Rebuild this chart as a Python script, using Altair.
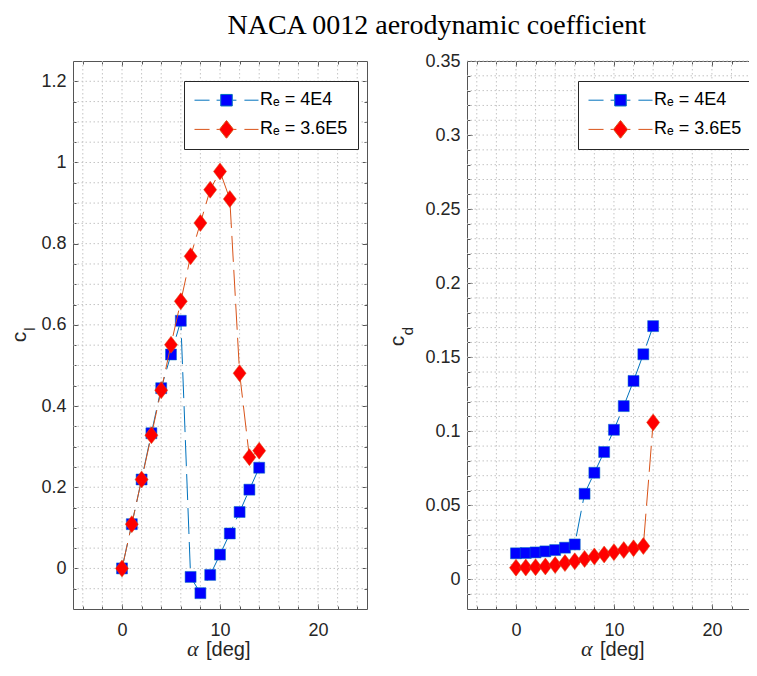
import altair as alt
import pandas as pd

# ---------------- data ----------------
alpha_deg = list(range(15))
series_names = ["Rₑ = 4E4", "Rₑ = 3.6E5"]

cl_re_4e4 = [0.0, 0.109, 0.219, 0.333, 0.444, 0.527, 0.610, -0.021, -0.061,
             -0.016, 0.034, 0.086, 0.139, 0.194, 0.248]
cl_re_36e5 = [0.0, 0.109, 0.219, 0.328, 0.439, 0.551, 0.658, 0.769, 0.851,
              0.933, 0.978, 0.910, 0.481, 0.274, 0.290]
cd_re_4e4 = [0.0176, 0.0178, 0.0182, 0.0189, 0.0198, 0.0214, 0.0236, 0.0578,
             0.0720, 0.0860, 0.1010, 0.1170, 0.1340, 0.1520, 0.1710]
cd_re_36e5 = [0.0079, 0.0080, 0.0082, 0.0087, 0.0097, 0.0110, 0.0122, 0.0138,
              0.0155, 0.0168, 0.0184, 0.0198, 0.0210, 0.0225, 0.1060]

# axes / ticks
x_major = [0, 10, 20]
x_minor = [-4, -2, 2, 4, 6, 8, 12, 14, 16, 18, 22, 24]
cl_major = [0, 0.2, 0.4, 0.6, 0.8, 1.0, 1.2]
cl_minor = [-0.05, 0.05, 0.1, 0.15, 0.25, 0.3, 0.35, 0.45, 0.5, 0.55, 0.65,
            0.7, 0.75, 0.85, 0.9, 0.95, 1.05, 1.1, 1.15]
cd_major = [0, 0.05, 0.1, 0.15, 0.2, 0.25, 0.3, 0.35]
cd_minor = [-0.01, 0.01, 0.02, 0.03, 0.04, 0.06, 0.07, 0.08, 0.09, 0.11, 0.12,
            0.13, 0.14, 0.16, 0.17, 0.18, 0.19, 0.21, 0.22, 0.23, 0.24, 0.26,
            0.27, 0.28, 0.29, 0.31, 0.32, 0.33, 0.34]

# ---------------- styles ----------------
SANS = "Liberation Sans"
SERIF = "Liberation Serif"
TXT = "#262626"
TICK = "#555555"
GRID = "#c4c4c4"
LINE_COLORS = ["#0072BD", "#D95319"]
MARK_COLORS = ["#0000FF", "#FF0000"]
DASH = [26, 8]
H = 548
XT_Y = 595
DIAMOND = "M0,-1L0.765,0L0,1L-0.765,0Z"
LEG_PATHS = [
    "M-1,0H-0.53M-0.31,0H-0.2M0.2,0H0.31M0.56,0H1M-0.18,-0.18H0.18V0.18H-0.18Z",
    "M-1,0H-0.53M-0.31,0H-0.23M0.23,0H0.31M0.56,0H1M0,-0.28L0.22,0L0,0.28L-0.22,0Z",
]


def ax(orient, values, size, labels=False, pad=0):
    kw = dict(orient=orient, values=values, tickSize=size, offset=-size,
              labels=labels, domain=False, grid=False, title=None,
              tickColor=TICK, tickWidth=1)
    if labels:
        kw.update(labelFont=SANS, labelFontSize=18, labelColor=TXT,
                  labelPadding=pad, format="~r")
    return alt.Axis(**kw)


def txt(s, x, y, size, font=SANS, angle=0, style="normal", align="center"):
    return alt.Chart(pd.DataFrame({"t": [s]})).mark_text(
        angle=angle, font=font, fontSize=size, fontStyle=style, color=TXT,
        align=align, baseline="alphabetic"
    ).encode(x=alt.value(x), y=alt.value(y), text="t:N")


def panel(ya, yb, y_domain, y_major, y_minor, width, x_domain, sub,
          cpos, spos, right_ticks):
    df = pd.DataFrame({
        "alpha": alpha_deg * 2,
        "value": ya + yb,
        "series": [series_names[0]] * len(ya) + [series_names[1]] * len(yb),
    })
    xs = alt.Scale(domain=x_domain, nice=False, zero=False)
    ys = alt.Scale(domain=y_domain, nice=False, zero=False)
    base = alt.Chart(df)
    fa = alt.datum.series == series_names[0]
    fb = alt.datum.series == series_names[1]

    gridx = alt.Chart(pd.DataFrame({"g": sorted(x_major + x_minor)})).mark_rule(
        color=GRID, strokeDash=[1.5, 2.5], strokeWidth=1
    ).encode(x=alt.X("g:Q", scale=xs, axis=ax("bottom", x_minor, 3)))
    gridy = alt.Chart(pd.DataFrame({"g": sorted(y_major + y_minor)})).mark_rule(
        color=GRID, strokeDash=[1.5, 2.5], strokeWidth=1
    ).encode(y=alt.Y("g:Q", scale=ys, axis=ax("left", y_minor, 3)))

    line_a = base.transform_filter(fa).mark_line(
        color=LINE_COLORS[0], strokeWidth=1, strokeDash=DASH
    ).encode(
        x=alt.X("alpha:Q", scale=xs, axis=ax("bottom", x_major, 5, True, 12)),
        y=alt.Y("value:Q", scale=ys, axis=ax("left", y_major, 5, True, 7)),
    )
    pts_a = base.transform_filter(fa).mark_point(
        shape="square", size=121, filled=True, fill=MARK_COLORS[0],
        stroke=LINE_COLORS[0], strokeWidth=0.5, opacity=1
    ).encode(
        x=alt.X("alpha:Q", scale=xs, axis=ax("top", x_major, 5)),
        y=alt.Y("value:Q", scale=ys,
                axis=ax("right", y_major, 5) if right_ticks else None),
    )
    line_b = base.transform_filter(fb).mark_line(
        color=LINE_COLORS[1], strokeWidth=1, strokeDash=DASH
    ).encode(
        x=alt.X("alpha:Q", scale=xs, axis=ax("top", x_minor, 3)),
        y=alt.Y("value:Q", scale=ys,
                axis=ax("right", y_minor, 3) if right_ticks else None),
    )
    pts_b = base.transform_filter(fb).mark_point(
        shape=DIAMOND, size=289, filled=True, fill=MARK_COLORS[1],
        stroke=LINE_COLORS[1], strokeWidth=0.5, opacity=1
    ).encode(
        x=alt.X("alpha:Q", scale=xs, axis=None),
        y=alt.Y("value:Q", scale=ys, axis=None),
    )

    leg = alt.Legend(
        title=None, orient="none", legendX=111, legendY=20, symbolSize=4096,
        clipHeight=18.4, rowPadding=10.2, padding=10, labelOffset=1,
        labelFont=SANS, labelFontSize=18, labelColor="black",
        strokeColor="#262626", fillColor="white", symbolStrokeWidth=1,
        symbolOpacity=1, labelLimit=300,
    )
    legend_layer = base.transform_filter("false").mark_point(
        filled=True, opacity=1
    ).encode(
        fill=alt.Fill("series:N", scale=alt.Scale(domain=series_names, range=MARK_COLORS), legend=leg),
        stroke=alt.Stroke("series:N", scale=alt.Scale(domain=series_names, range=LINE_COLORS), legend=leg),
        shape=alt.Shape("series:N", scale=alt.Scale(domain=series_names, range=LEG_PATHS), legend=leg),
    )

    titles = [
        txt("c", cpos[0], cpos[1], 21, angle=270),
        txt(sub, spos[0], spos[1], 15, angle=270),
        txt("α", 114, XT_Y, 22, font=SERIF, style="italic", align="left"),
        txt("[deg]", 133, XT_Y, 20, align="left"),
    ]

    return alt.layer(
        gridx, gridy, line_a, pts_a, line_b, pts_b, legend_layer, *titles
    ).resolve_axis(x="independent", y="independent").properties(
        width=width, height=H
    )


left = panel(cl_re_4e4, cl_re_36e5, [-0.1, 1.25], cl_major, cl_minor, 294,
             [-5, 25], "l", (-47, 276), (-38, 268), True)
right = panel(cd_re_4e4, cd_re_36e5, [-0.02, 0.35], cd_major, cd_minor, 289,
              [-5, 24.5], "d", (-63, 280), (-54, 270), False)

chart = alt.hconcat(left, right, spacing=100, bounds="flush").resolve_scale(
    x="independent", y="independent", fill="independent",
    stroke="independent", shape="independent"
).properties(
    title=alt.TitleParams(
        "NACA 0012 aerodynamic coefficient", font=SERIF, fontSize=28,
        fontWeight="normal", color="black", anchor="middle", offset=12, dx=54
    ),
    padding={"left": 0, "top": 3, "right": -8, "bottom": 0},
    background="white",
).configure_view(stroke="#555555", strokeWidth=1)

chart.save("out.html", embed_options={"renderer": "svg", "actions": False})
